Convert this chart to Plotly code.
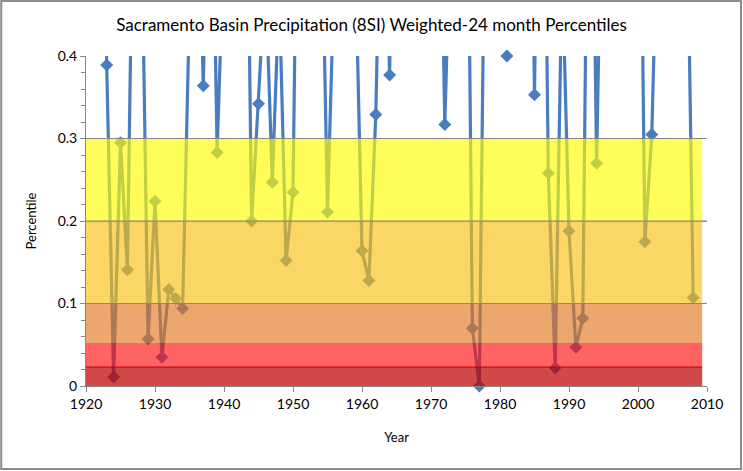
import plotly.graph_objects as go

# Weighted-24 month percentiles, Sacramento basin (8SI).
# Values above 0.4 run off the top of the chart; they are estimated from the line slopes.
years = list(range(1922, 2009))
percentile = [
    0.90, 0.389, 0.011, 0.295, 0.141, 0.72, 0.59, 0.057, 0.224, 0.035,   # 1922-1931
    0.117, 0.106, 0.094, 0.46, 0.70, 0.364, 0.79, 0.283, 0.62, 0.80,     # 1932-1941
    0.70, 0.87, 0.200, 0.342, 0.50, 0.247, 0.48, 0.152, 0.235, 0.90,     # 1942-1951
    0.75, 0.80, 0.65, 0.211, 0.74, 0.80, 0.90, 0.55, 0.164, 0.128,       # 1952-1961
    0.329, 0.73, 0.377, 0.90, 0.60, 0.85, 0.70, 0.95, 0.80, 0.80,        # 1962-1971
    0.317, 0.64, 0.90, 0.91, 0.070, 0.000, 0.74, 0.85, 0.95, 0.400,      # 1972-1981
    0.85, 0.98, 0.99, 0.353, 0.99, 0.258, 0.022, 0.51, 0.188, 0.047,     # 1982-1991
    0.082, 0.90, 0.270, 0.73, 0.90, 0.95, 0.98, 0.60, 0.92, 0.175,       # 1992-2001
    0.305, 0.63, 0.50, 0.80, 0.70, 0.65, 0.107,                          # 2002-2008
]

# drought category bands: (lower, upper, colour)
band_low = [0.0, 0.023, 0.052, 0.1, 0.2]
band_high = [0.023, 0.052, 0.1, 0.2, 0.3]
band_colors = ["rgba(190,2,2,0.72)", "rgba(255,16,16,0.65)", "rgba(227,118,31,0.65)",
               "rgba(250,192,17,0.65)", "rgba(255,252,1,0.65)"]
band_end = 2009.3

y_ticks = [0, 0.1, 0.2, 0.3, 0.4]
x_ticks = list(range(1920, 2011, 10))

blue = "#4A7DBF"
grid = "#878787"

fig = go.Figure()
fig.add_trace(go.Scatter(x=years, y=percentile, mode="lines",
                         line=dict(color=blue, width=3.2), showlegend=False))
shown = [(x, y) for x, y in zip(years, percentile) if y <= 0.4]
fig.add_trace(go.Scatter(x=[p[0] for p in shown], y=[p[1] for p in shown],
                         mode="markers", cliponaxis=False,
                         marker=dict(symbol="diamond", size=10, color=blue),
                         showlegend=False))

for lo, hi, col in zip(band_low, band_high, band_colors):
    fig.add_shape(type="rect", xref="x", yref="y", x0=1920, x1=band_end, y0=lo, y1=hi,
                  fillcolor=col, line_width=0, layer="above")
# red edge on top of the darkest band
fig.add_shape(type="line", xref="x", yref="y", x0=1920, x1=band_end,
              y0=band_high[0], y1=band_high[0], line=dict(color="#C00000", width=1),
              layer="above")
# gridlines show through the bands
for t in y_ticks[1:4]:
    fig.add_shape(type="line", xref="x", yref="y", x0=1920, x1=2010, y0=t, y1=t,
                  line=dict(color=grid, width=1), layer="above")

# chart border
fig.add_shape(type="rect", xref="paper", yref="paper", x0=-0.1365, x1=1.0548,
              y0=-0.2515, y1=1.1667, line=dict(color="#8C8C8C", width=2))

font = "Lato, 'Open Sans', sans-serif"
fig.update_layout(
    width=743, height=471,
    margin=dict(l=86, r=36, t=56, b=85),
    paper_bgcolor="white", plot_bgcolor="white",
    font=dict(family=font, size=14, color="black"),
    title=dict(text="Sacramento Basin Precipitation (8SI) Weighted-24 month Percentiles",
               x=0.5, xanchor="center", xref="container", y=0.947, yanchor="middle",
               font=dict(size=17)),
    xaxis=dict(range=[1920, 2010], tickvals=x_ticks, showgrid=False,
               showline=True, linecolor=grid, ticks="outside", ticklen=5,
               tickcolor=grid, zeroline=False,
               title=dict(text="Year", standoff=22, font=dict(size=13))),
    yaxis=dict(range=[0, 0.4], tickvals=y_ticks, ticktext=["0", "0.1", "0.2", "0.3", "0.4"],
               showgrid=True, gridcolor=grid, showline=True, linecolor=grid,
               ticks="outside", ticklen=5, tickcolor=grid, zeroline=False,
               minor=dict(dtick=0.02, ticks="outside", ticklen=4, tickcolor=grid, showgrid=False),
               title=dict(text="Percentile", standoff=18, font=dict(size=13))),
)

fig.write_html("out.html", config={"displayModeBar": False},
               post_script="document.body.style.margin='0';")
